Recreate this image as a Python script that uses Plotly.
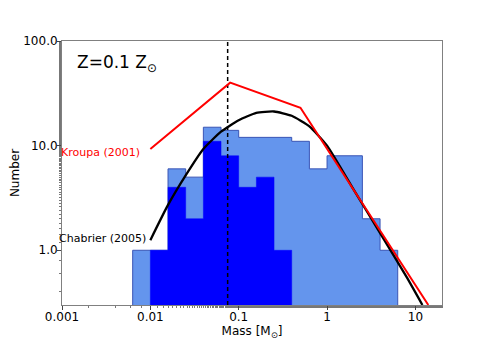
import plotly.graph_objects as go
import numpy as np

# histogram bins (log10 of bin edges) and counts
all_log_edges = [-2.2, -2.0, -1.8, -1.6, -1.4, -1.2, -1.0, -0.8, -0.6, -0.4, -0.2, 0.0, 0.2, 0.4, 0.6, 0.8]
all_counts = [1, 1, 6, 5, 15, 14, 12, 12, 12, 11, 6, 8, 8, 2, 1]

bd_log_edges = [-2.0, -1.8, -1.6, -1.4, -1.2, -1.0, -0.8, -0.6, -0.4]
bd_counts = [1, 4, 2, 11, 8, 4, 5, 1]

# IMF curves
kroupa_mass = [0.01, 0.08, 0.5, 14]
kroupa_n = [9.3, 40, 23, 0.3]

chabrier_mass = [0.01, 0.0158, 0.0251, 0.0398, 0.0631, 0.1, 0.158, 0.251, 0.398, 0.631, 1.0, 2.0, 4.0, 8.0, 12]
chabrier_n = [1.25, 2.7, 5.2, 9.3, 13.6, 17.5, 20.6, 21.2, 19.3, 15.3, 10.0, 3.8, 1.45, 0.55, 0.3]

h_burning_limit = 0.075

x_ticks = [0.001, 0.01, 0.1, 1, 10]
x_ticktext = ['0.001', '0.01', '0.1', '1', '10']
y_ticks = [1, 10, 100]
y_ticktext = ['1.0', '10.0', '100.0']

FLOOR = 0.01

# the page body adds an 8px offset, so the figure is drawn 8px smaller
PAGE_OFFSET = 8


def step_outline(log_edges, counts):
    edges = [10 ** e for e in log_edges]
    xs, ys = [edges[0]], [FLOOR]
    for i, c in enumerate(counts):
        xs += [edges[i], edges[i + 1]]
        ys += [c, c]
    xs.append(edges[-1])
    ys.append(FLOOR)
    xs.append(edges[0])
    ys.append(FLOOR)
    return xs, ys


fig = go.Figure()

x, y = step_outline(all_log_edges, all_counts)
fig.add_trace(go.Scatter(x=x, y=y, fill='toself', fillcolor='#6495ED', mode='lines',
                         line=dict(color='#3a55b5', width=1)))

x, y = step_outline(bd_log_edges, bd_counts)
fig.add_trace(go.Scatter(x=x, y=y, fill='toself', fillcolor='#0000FF', mode='lines',
                         line=dict(color='#0000FF', width=0.5)))

fig.add_trace(go.Scatter(x=[h_burning_limit, h_burning_limit], y=[0.3, 100], mode='lines',
                         line=dict(color='black', width=1.5, dash='4px,3px')))

fig.add_trace(go.Scatter(x=chabrier_mass, y=chabrier_n, mode='lines', line_shape='spline',
                         line=dict(color='black', width=2.3, smoothing=0.5)))

fig.add_trace(go.Scatter(x=kroupa_mass, y=kroupa_n, mode='lines',
                         line=dict(color='#ff0000', width=2)))

axis_common = dict(showline=True, linecolor='#808080', linewidth=1, mirror=True, automargin=False,
                   ticks='outside', ticklen=4, tickcolor='#444', showgrid=False, zeroline=False,
                   ticklabelstandoff=-3,
                   tickfont=dict(size=12, color='black'),
                   minor=dict(ticks='outside', ticklen=2, tickcolor='#777', showgrid=False))

fig.update_xaxes(type='log', range=[-3, np.log10(20)], tickvals=x_ticks, ticktext=x_ticktext,
                 title=dict(text='Mass [M<sub>⊙</sub>]', font=dict(size=12, color='black'), standoff=2),
                 **axis_common)
fig.update_yaxes(type='log', range=[np.log10(0.3), 2], tickvals=y_ticks, ticktext=y_ticktext,
                 title=dict(text='Number', font=dict(size=12, color='black'), standoff=6),
                 **axis_common)

fig.add_annotation(text='Kroupa (2001)', x=0.21, y=0.576, xref='paper', yref='paper',
                   xanchor='right', yanchor='middle', showarrow=False,
                   font=dict(size=11, color='#ff0000'))
fig.add_annotation(text='Chabrier (2005)', x=0.2265, y=0.2535, xref='paper', yref='paper',
                   xanchor='right', yanchor='middle', showarrow=False,
                   font=dict(size=11, color='black'))
fig.add_annotation(text='Z=0.1 Z<sub>⊙</sub>', x=0.035, y=0.915, xref='paper', yref='paper',
                   xanchor='left', yanchor='middle', showarrow=False,
                   font=dict(size=17, color='black'))

fig.update_layout(width=491 - PAGE_OFFSET, height=343 - PAGE_OFFSET, showlegend=False,
                  margin=dict(l=62 - PAGE_OFFSET, r=49, t=41 - PAGE_OFFSET, b=38),
                  paper_bgcolor='white', plot_bgcolor='white',
                  font=dict(family='DejaVu Sans', color='black'))

fig.write_html('out.html')
